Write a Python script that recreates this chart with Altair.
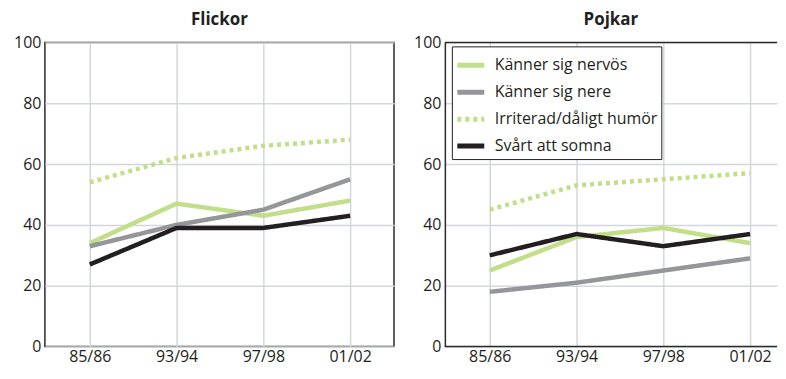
import json
import altair as alt
import pandas as pd

years = ["85/86", "93/94", "97/98", "01/02"]
series = ["Känner sig nervös", "Känner sig nere", "Irriterad/dåligt humör", "Svårt att somna"]

flickor_nervos = [34, 47, 43, 48]
flickor_nere = [33, 40, 45, 55]
flickor_irriterad = [54, 62, 66, 68]
flickor_svart = [27, 39, 39, 43]

pojkar_nervos = [25, 36, 39, 34]
pojkar_nere = [18, 21, 25, 29]
pojkar_irriterad = [45, 53, 55, 57]
pojkar_svart = [30, 37, 33, 37]

y_ticks = [0, 20, 40, 60, 80, 100]
y_frame = [y_ticks[0], y_ticks[-1]]

colors = ["#c2de88", "#95969a", "#c2de88", "#231f20"]
dashes = [[1, 0], [1, 0], [4, 4], [1, 0]]
widths = [4.5, 4.5, 4.5, 5.5]

FONT = "Open Sans"
BORDER = "#2b2b2b"
H = 305
STEP = 87.0          # pixels between survey years
FIRST = 45.0         # pixels from plot's left edge to first year
W_LEFT = 350
W_RIGHT = 333

idx = list(range(len(years)))
label_expr = json.dumps(years, ensure_ascii=False) + "[datum.value]"


def frame(vals_list):
    rows = []
    for s, vals in zip(series, vals_list):
        for i, y, v in zip(idx, years, vals):
            rows.append({"idx": i, "year": y, "series": s, "value": v})
    return pd.DataFrame(rows)


df_f = frame([flickor_nervos, flickor_nere, flickor_irriterad, flickor_svart])
df_p = frame([pojkar_nervos, pojkar_nere, pojkar_irriterad, pojkar_svart])


def lines(df, width, legend, domain):
    leg = alt.Legend(title=None, orient="none", legendX=7, legendY=4) if legend else None
    d0 = -FIRST / STEP
    d1 = d0 + width / STEP
    xaxis = alt.Axis(title=None, labelAngle=0, domain=False, values=idx, labelExpr=label_expr)
    yaxis = alt.Axis(values=y_ticks, title=None, domain=domain, domainColor=BORDER, domainWidth=1.5)
    return alt.Chart(df).mark_line().encode(
        x=alt.X("idx:Q", scale=alt.Scale(domain=[d0, d1], nice=False, zero=False), axis=xaxis),
        y=alt.Y("value:Q", scale=alt.Scale(domain=[0, 100], nice=False), axis=yaxis),
        color=alt.Color("series:N", sort=series,
                        scale=alt.Scale(domain=series, range=colors), legend=leg),
        strokeDash=alt.StrokeDash("series:N", sort=series,
                                  scale=alt.Scale(domain=series, range=dashes), legend=leg),
        strokeWidth=alt.StrokeWidth("series:N", sort=series,
                                    scale=alt.Scale(domain=series, range=widths), legend=None),
    )


left = lines(df_f, W_LEFT, False, False).properties(title="Flickor", width=W_LEFT, height=H)

frame_rules = alt.Chart(pd.DataFrame({"v": y_frame})).mark_rule(
    color=BORDER, strokeWidth=1.5
).encode(y="v:Q")

right = alt.layer(lines(df_p, W_RIGHT, True, True), frame_rules).properties(
    title="Pojkar", width=W_RIGHT, height=H,
    view=alt.ViewBackground(strokeOpacity=0),
)

chart = alt.hconcat(left, right, spacing=18).resolve_scale(
    color="independent", strokeDash="independent", x="independent"
).properties(
    padding={"left": 4, "top": 2, "right": 0, "bottom": 1}
).configure_view(
    stroke=BORDER, strokeWidth=1.5
).configure_axis(
    labelFont=FONT, labelFontSize=16, labelColor="#231f20",
    ticks=False, domain=False, gridColor="#d3d7db", gridWidth=1.5,
    labelPadding=4,
).configure_axisX(labelPadding=2).configure_title(
    font=FONT, fontSize=17, fontWeight="bold", color="#231f20", offset=5
).configure_legend(
    strokeColor="#231f20", fillColor="white", padding=3,
    symbolType="stroke", symbolSize=729, symbolStrokeWidth=5,
    labelFont=FONT, labelFontSize=16, labelColor="#231f20",
    labelOffset=8, rowPadding=1, labelLimit=300,
)

chart.save("out.html", embed_options={"renderer": "svg", "actions": False})
